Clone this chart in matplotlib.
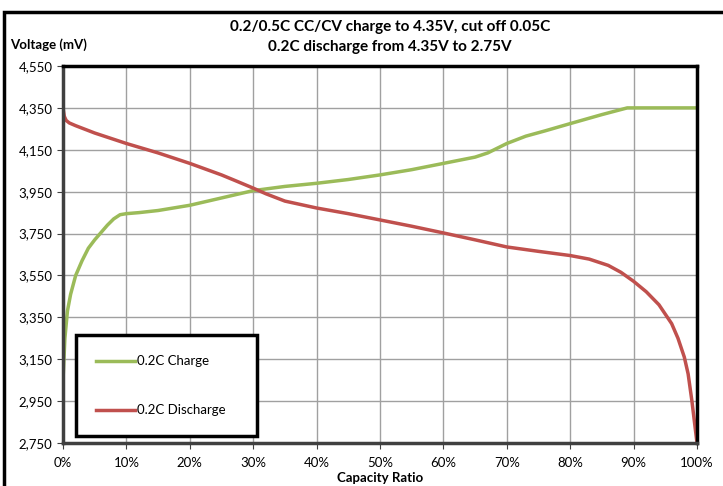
import matplotlib
matplotlib.use("Agg")
import matplotlib.pyplot as plt
from matplotlib.ticker import FuncFormatter
from matplotlib.patches import Rectangle

plt.rcParams['font.family'] = ['Lato', 'DejaVu Sans']

charge_x = [0, 0.3, 0.7, 1.2, 2, 3, 4, 5, 6, 7, 8, 9, 10, 12, 15, 20, 25, 30, 35, 40, 45, 50, 55, 60, 65, 67, 70, 73, 76, 80, 85, 89, 95, 100]
charge_y = [3050, 3250, 3380, 3460, 3550, 3620, 3680, 3720, 3755, 3790, 3820, 3840, 3845, 3850, 3860, 3885, 3920, 3955, 3975, 3990, 4008, 4030, 4055, 4085, 4115, 4135, 4180, 4215, 4240, 4275, 4318, 4350, 4350, 4350]

dis_x = [0, 0.2, 0.5, 1, 2, 5, 10, 15, 20, 25, 27, 30, 32, 35, 40, 45, 50, 55, 60, 65, 70, 75, 80, 83, 86, 88, 90, 92, 94, 96, 97, 98, 98.6, 99.2, 99.6, 100]
dis_y = [4350, 4310, 4290, 4278, 4265, 4230, 4180, 4135, 4085, 4030, 4005, 3967, 3940, 3905, 3872, 3845, 3815, 3785, 3753, 3720, 3686, 3665, 3645, 3628, 3598, 3565, 3522, 3472, 3410, 3320, 3250, 3160, 3080, 2950, 2850, 2750]

xticks = list(range(0, 101, 10))
yticks = list(range(2750, 4551, 200))

fig = plt.figure(figsize=(7.23, 4.86), dpi=100)
ax = fig.add_axes([63/723, 1-443/486, (697-63)/723, (443-66)/486])

ax.plot(charge_x, charge_y, color='#9BBB59', lw=2.5, label='0.2C Charge')
ax.plot(dis_x, dis_y, color='#C0504D', lw=2.5, label='0.2C Discharge')

ax.set_xlim(0, 100)
ax.set_ylim(2750, 4550)
ax.set_xticks(xticks)
ax.set_yticks(yticks)
ax.xaxis.set_major_formatter(FuncFormatter(lambda v, p: f"{int(v)}%"))
ax.yaxis.set_major_formatter(FuncFormatter(lambda v, p: f"{int(v):,}"))
ax.grid(True, color='#A0A0A0', lw=1)
ax.set_axisbelow(True)
ax.tick_params(axis='both', labelsize=9.5, length=4, color='#404040')
ax.tick_params(axis='x', pad=6)
for s in ['left', 'bottom']:
    ax.spines[s].set_color('#404040')
    ax.spines[s].set_linewidth(2.5)
for s in ['top', 'right']:
    ax.spines[s].set_color('black')
    ax.spines[s].set_linewidth(2.5)

ax.set_xlabel('Capacity Ratio', fontsize=9.5, fontweight='bold', labelpad=2)

fig.text(390/723, 1-27/486, '0.2/0.5C CC/CV charge to 4.35V, cut off 0.05C', ha='center', va='center', fontsize=11, fontweight='bold')
fig.text(390/723, 1-47/486, '0.2C discharge from 4.35V to 2.75V', ha='center', va='center', fontsize=11, fontweight='bold')
fig.text(10/723, 1-45/486, 'Voltage (mV)', ha='left', va='center', fontsize=9.5, fontweight='bold')

# outer frame
fig.patches.append(Rectangle((4/723, -0.05), 1.2, 1-12/486+0.05, transform=fig.transFigure,
                             fill=False, edgecolor='black', lw=2.5))

leg = ax.legend(loc='lower left', bbox_to_anchor=((76-63)/634, (443-436)/377, (257-76)/634, (436-332)/377),
                mode='expand', frameon=True, fancybox=False, fontsize=9.5, labelspacing=2.8,
                handlelength=3.0, handletextpad=0.1, borderpad=1.5, borderaxespad=0)
leg.get_frame().set_edgecolor('black')
leg.get_frame().set_linewidth(2.5)
leg.get_frame().set_alpha(None)
leg.get_frame().set_facecolor('white')

fig.savefig('out.png', dpi=100)
